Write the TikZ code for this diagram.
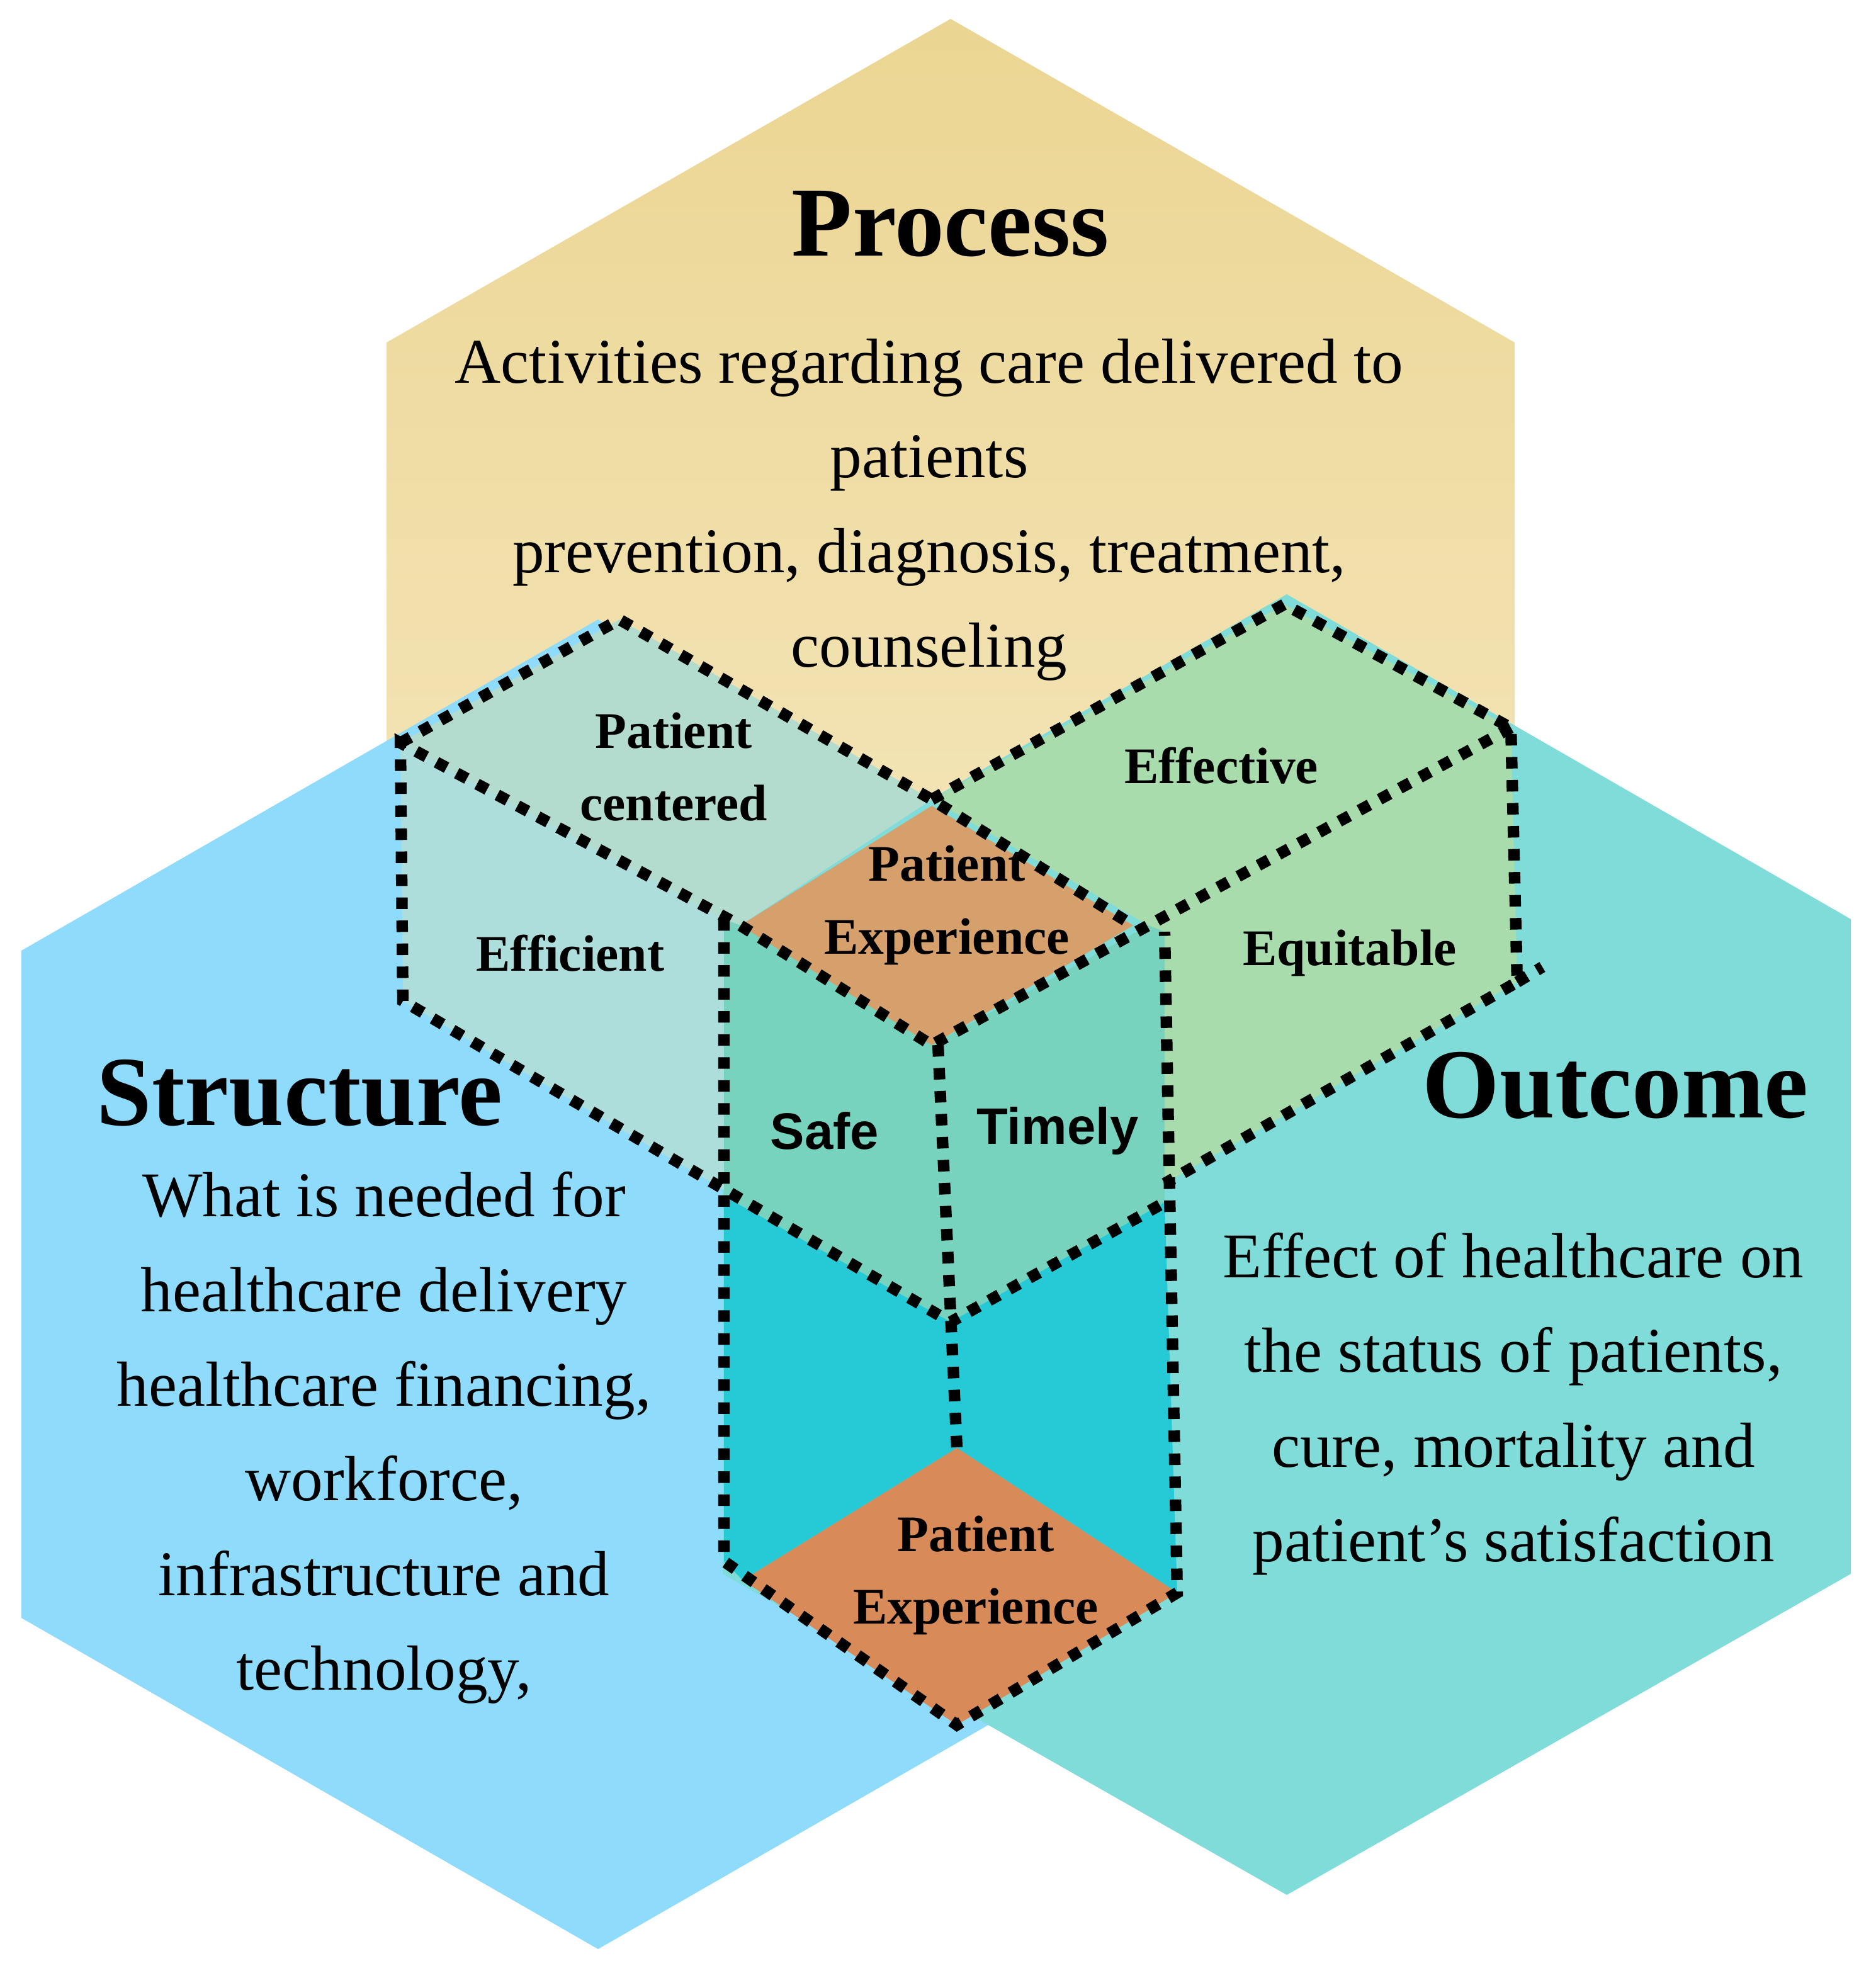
\documentclass[tikz,border=0pt]{standalone}
\usepackage{fontspec}
\setmainfont{Liberation Serif}
\setsansfont{Liberation Sans}
\begin{document}
\begin{tikzpicture}[x=0.05cm,y=-0.05cm,
  dot/.style={draw=black,line width=13pt,dash pattern=on 13pt off 13pt},
  ttl/.style={font=\fontsize{112}{120}\selectfont\bfseries},
  body/.style={font=\fontsize{72}{107}\selectfont,align=center},
  lbl/.style={font=\fontsize{58}{82}\selectfont\bfseries,align=center},
  slbl/.style={font=\sffamily\fontsize{58}{70}\selectfont\bfseries}]
\definecolor{yTop}{HTML}{EBD592}
\definecolor{yBot}{HTML}{F8EDCB}
\definecolor{blu}{HTML}{8FDBFB}
\definecolor{tea}{HTML}{7FDCD8}
\definecolor{pcf}{HTML}{B3DCCF}
\definecolor{eff}{HTML}{ADDEDB}
\definecolor{grn}{HTML}{A8DCAC}
\definecolor{sg}{HTML}{77D2BE}
\definecolor{cy}{HTML}{25CAD6}
\definecolor{or1}{HTML}{D6A06C}
\definecolor{or2}{HTML}{D88B58}
\useasboundingbox (0,0) rectangle (1489.5,1571);
% big hexagons
\shade[top color=yTop,bottom color=yBot] (755,15)--(1203,272)--(1203,790)--(755,1050)--(307,790)--(307,272)--cycle;
\fill[blu] (475,492)--(933,755)--(933,1285)--(475,1548)--(17,1285)--(17,755)--cycle;
\fill[tea] (1022,472)--(1470,730)--(1470,1250)--(1022,1505)--(574,1250)--(574,730)--cycle;
% faces
\fill[pcf] (318,590)--(492,492)--(740,635)--(588,735)--(575,730)--cycle;
\fill[eff] (318,590)--(575,730)--(575,945)--(320,795)--cycle;
\fill[grn] (740,635)--(1020,480)--(1200,578)--(1205,780)--(925,940)--(912,735)--cycle;
\fill[sg] (575,730)--(588,735)--(740,830)--(912,735)--(925,740)--(925,955)--(755,1050)--(575,950)--cycle;
\fill[cy] (575,950)--(755,1050)--(925,955)--(935,1265)--(760,1150)--(590,1255)--(575,1240)--cycle;
\fill[or1] (740,640)--(900,735)--(740,830)--(588,735)--cycle;
\fill[or2] (760,1150)--(935,1265)--(760,1370)--(590,1255)--cycle;
% dotted lines
\draw[dot] (318,590)--(492,492)--(740,635)--(900,735);
\draw[dot] (740,635)--(1020,480)--(1200,578)--(1205,780)--(925,940);
\draw[dot] (1205,780)--(1225,768);
\draw[dot] (1200,578)--(912,735)--(740,830)--(588,735)--(318,590)--(320,795)--(755,1050)--(925,955);
\draw[dot] (575,730)--(575,1240)--(760,1370)--(935,1265)--(925,740);
\draw[dot] (745,830)--(760,1150);
% texts
\node[ttl] (tp) at (755,178) {Process};
\node[body] (bp) at (738,405) {Activities regarding care delivered to\\patients\\prevention, diagnosis, treatment,\\counseling};
\node[ttl] (ts) at (238,868) {Structure};
\node[body] (bs) at (305,1142) {What is needed for\\healthcare delivery\\healthcare financing,\\workforce,\\infrastructure and\\technology,};
\node[ttl] (to) at (1283,862) {Outcome};
\node[body] (bo) at (1202,1115) {Effect of healthcare on\\the status of patients,\\cure, mortality and\\patient's satisfaction};
\node[lbl] (l1) at (535,609) {Patient\\centered};
\node[lbl] (l2) at (970,608) {Effective};
\node[lbl] (l3) at (453,757) {Efficient};
\node[lbl] (l4) at (1072,757) {Equitable};
\node[lbl] (l5) at (752,719) {Patient\\Experience};
\node[lbl] (l6) at (775,1251) {Patient\\Experience};
\node[slbl] (l7) at (655,898) {Safe};
\node[slbl] (l8) at (840,898) {Timely};
\end{tikzpicture}
\end{document}
